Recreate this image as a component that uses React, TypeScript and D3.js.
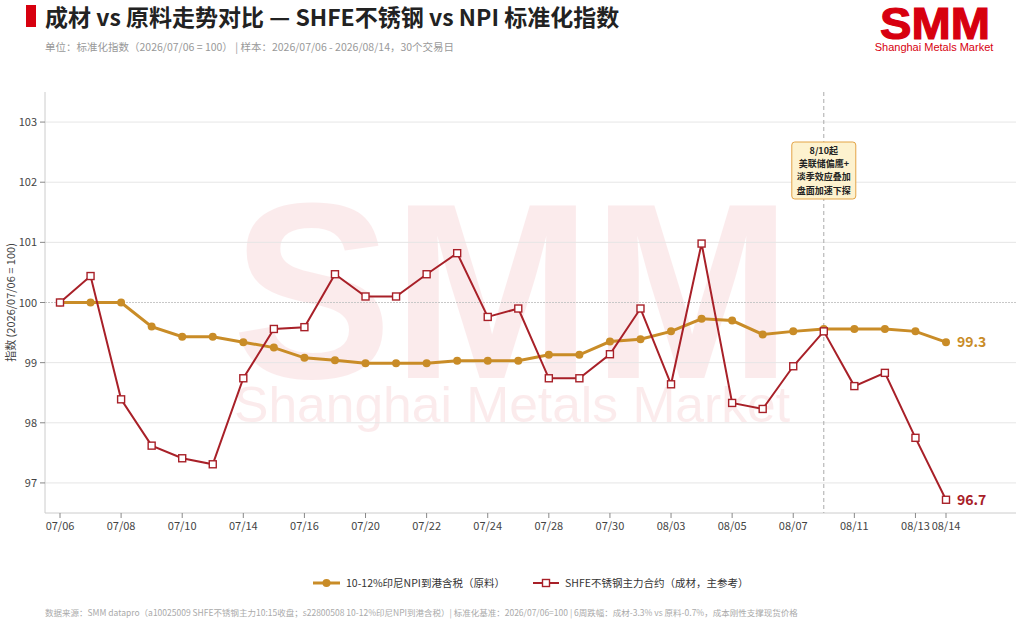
import React from 'react';
import * as d3 from 'd3';

const dates = [
  '07/06', '07/07', '07/08', '07/09', '07/10', '07/13', '07/14', '07/15', '07/16', '07/17',
  '07/20', '07/21', '07/22', '07/23', '07/24', '07/27', '07/28', '07/29', '07/30', '07/31',
  '08/03', '08/04', '08/05', '08/06', '08/07', '08/10', '08/11', '08/12', '08/13', '08/14',
];
const npiIndex = [
  100, 100, 100, 99.6, 99.43, 99.43, 99.34, 99.25, 99.08, 99.04,
  98.99, 98.99, 98.99, 99.03, 99.03, 99.03, 99.13, 99.13, 99.35, 99.39,
  99.52, 99.73, 99.7, 99.47, 99.52, 99.56, 99.56, 99.56, 99.52, 99.34,
];
const shfeIndex = [
  100, 100.44, 98.39, 97.62, 97.41, 97.31, 98.74, 99.56, 99.59, 100.47,
  100.1, 100.1, 100.47, 100.82, 99.76, 99.9, 98.74, 98.74, 99.14, 99.9,
  98.64, 100.98, 98.33, 98.23, 98.94, 99.52, 98.61, 98.83, 97.75, 96.72,
];
const xTickLabels = ['07/06', '07/08', '07/10', '07/14', '07/16', '07/20', '07/22', '07/24', '07/28', '07/30', '08/03', '08/05', '08/07', '08/11', '08/13', '08/14'];
const yTicks = [97, 98, 99, 100, 101, 102, 103];
const eventDate = '08/10';
const eventLines = ['8/10起', '美联储偏鹰+', '淡季效应叠加', '盘面加速下探'];

const GOLD = '#c98c27';
const RED = '#a82028';
const FONT = '"Noto Sans CJK SC", "Noto Sans", sans-serif';
const LATIN = '"Liberation Sans", Arial, sans-serif';

export default function App() {
  const left = 45, right = 1016, top = 92, bottom = 513;

  const x = d3.scalePoint<string>().domain(dates).range([60, 946]);
  const y = d3.scaleLinear().domain([96.5, 103.5]).range([bottom, top]);

  const line = d3.line<number>()
    .x((_, i) => x(dates[i]) as number)
    .y(d => y(d));

  const ex = x(eventDate) as number;
  const lastX = x(dates[dates.length - 1]) as number;

  return (
    <div style={{ position: 'absolute', left: 0, top: 0 }}>
      <svg width={1024} height={627} style={{ display: 'block', fontFamily: FONT }}>
        <rect width={1024} height={627} fill="#fff" />

        {/* header */}
        <rect x={26} y={5} width={10} height={22} fill="#d7000f" />
        <text x={45} y={26} fontSize={23} fontWeight={700} fill="#222">成材 vs 原料走势对比 — SHFE不锈钢 vs NPI 标准化指数</text>
        <text x={45} y={51} fontSize={10.5} fill="#999">单位：标准化指数（2026/07/06 = 100）  |  样本：2026/07/06 - 2026/08/14，30个交易日</text>

        {/* logo */}
        <text x={880} y={39} fontSize={44} fontWeight={900} fill="#d7000f" stroke="#d7000f" strokeWidth={1.2}
          textLength={110} lengthAdjust="spacingAndGlyphs" style={{ fontFamily: LATIN }}>SMM</text>
        <text x={934} y={51} fontSize={11} fill="#d7000f" textAnchor="middle" style={{ fontFamily: LATIN }}>Shanghai Metals Market</text>

        {/* watermark */}
        <g opacity={0.075} fill="#d7000f">
          <text x={512} y={378} fontSize={250} fontWeight={900} textAnchor="middle" textLength={560}
            lengthAdjust="spacingAndGlyphs" style={{ fontFamily: LATIN }}>SMM</text>
          <text x={512} y={422} fontSize={50} textAnchor="middle" textLength={556}
            lengthAdjust="spacingAndGlyphs" style={{ fontFamily: LATIN }}>Shanghai Metals Market</text>
        </g>

        {/* grid */}
        {yTicks.map(t => (
          <line key={t} x1={left} x2={right} y1={y(t)} y2={y(t)}
            stroke={t === 100 ? '#c8c8c8' : '#e6e6e6'} strokeWidth={1}
            strokeDasharray={t === 100 ? '2,1' : undefined} />
        ))}

        {/* axes */}
        <line x1={left} x2={left} y1={top} y2={bottom} stroke="#ccc" />
        <line x1={left} x2={right} y1={bottom} y2={bottom} stroke="#ccc" />
        {yTicks.map(t => (
          <g key={t}>
            <line x1={left - 5} x2={left} y1={y(t)} y2={y(t)} stroke="#888" />
            <text x={left - 8} y={y(t) + 4} fontSize={11} fill="#444" textAnchor="end">{t}</text>
          </g>
        ))}
        {xTickLabels.map(d => (
          <g key={d}>
            <line x1={x(d)} x2={x(d)} y1={bottom} y2={bottom + 5} stroke="#888" />
            <text x={x(d)} y={530} fontSize={11} fill="#444" textAnchor="middle">{d}</text>
          </g>
        ))}
        <text transform={`translate(15,${(top + bottom) / 2}) rotate(-90)`} fontSize={11} fill="#444" textAnchor="middle">指数 (2026/07/06 = 100)</text>

        {/* event marker */}
        <line x1={ex} x2={ex} y1={top} y2={bottom} stroke="#aaa" strokeDasharray="4,3" />
        <rect x={ex - 32} y={142} width={64} height={57} rx={3} fill="#fdf2cf" stroke="#e3a447" strokeWidth={1} />
        {eventLines.map((t, i) => (
          <text key={t} x={ex} y={153.5 + i * 13.4} fontSize={9} fontWeight={700} fill="#222" textAnchor="middle">{t}</text>
        ))}

        {/* series */}
        <path d={line(npiIndex) || ''} fill="none" stroke={GOLD} strokeWidth={3} />
        {npiIndex.map((v, i) => (
          <circle key={i} cx={x(dates[i])} cy={y(v)} r={4} fill={GOLD} />
        ))}
        <path d={line(shfeIndex) || ''} fill="none" stroke={RED} strokeWidth={2} />
        {shfeIndex.map((v, i) => (
          <rect key={i} x={(x(dates[i]) as number) - 3.5} y={y(v) - 3.5} width={7} height={7} fill="#fff" stroke={RED} strokeWidth={1.4} />
        ))}

        <text x={lastX + 11} y={y(npiIndex[npiIndex.length - 1]) + 5} fontSize={14} fontWeight={700} fill={GOLD}>
          {npiIndex[npiIndex.length - 1].toFixed(1)}
        </text>
        <text x={lastX + 11} y={y(shfeIndex[shfeIndex.length - 1]) + 5} fontSize={14} fontWeight={700} fill={RED}>
          {shfeIndex[shfeIndex.length - 1].toFixed(1)}
        </text>

        {/* legend */}
        <line x1={313} x2={340} y1={583} y2={583} stroke={GOLD} strokeWidth={3} />
        <circle cx={326.5} cy={583} r={4} fill={GOLD} />
        <text x={346} y={587} fontSize={10.5} fill="#333">10-12%印尼NPI到港含税（原料）</text>
        <line x1={533} x2={559} y1={583} y2={583} stroke={RED} strokeWidth={2} />
        <rect x={542.5} y={579.5} width={7} height={7} fill="#fff" stroke={RED} strokeWidth={1.4} />
        <text x={565} y={587} fontSize={10.5} fill="#333">SHFE不锈钢主力合约（成材，主参考）</text>

        {/* footer */}
        <text x={45} y={616} fontSize={8.5} fill="#aaa">数据来源：SMM datapro（a10025009 SHFE不锈钢主力10:15收盘；s22800508 10-12%印尼NPI到港含税）| 标准化基准：2026/07/06=100 | 6周跌幅：成材-3.3% vs 原料-0.7%，成本刚性支撑现货价格</text>
      </svg>
    </div>
  );
}
